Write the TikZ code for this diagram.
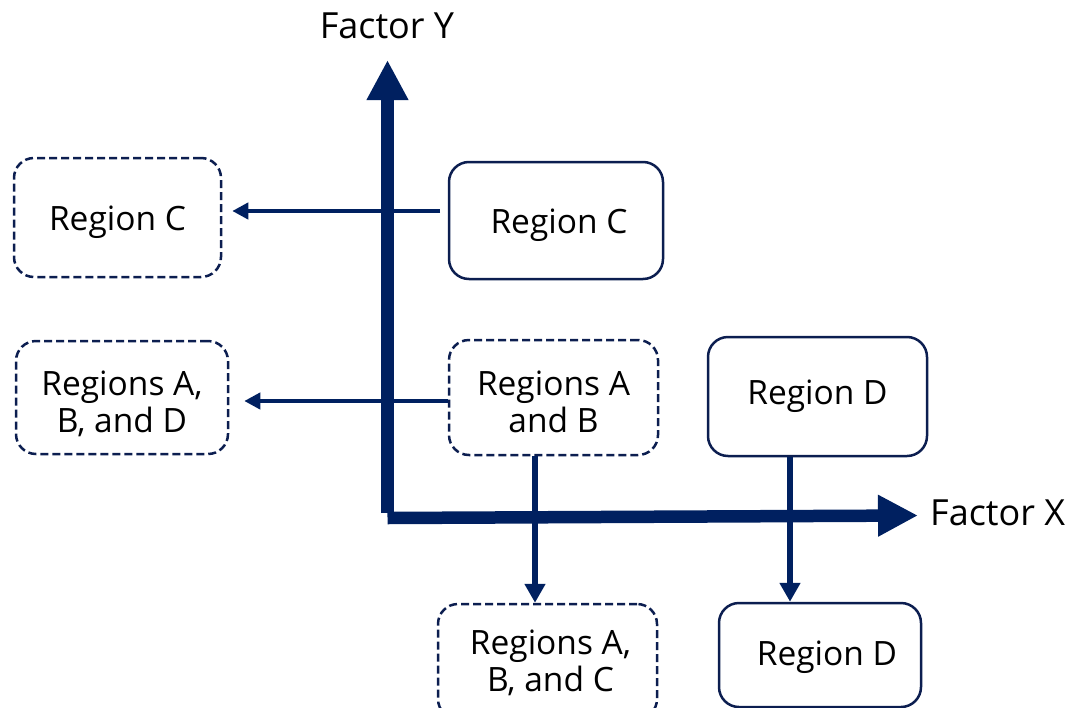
\documentclass[tikz,border=0pt]{standalone}
\usepackage{fontspec}
\setmainfont{Open Sans}
\usetikzlibrary{arrows.meta}
\definecolor{navy}{RGB}{0,32,96}
\definecolor{boxline}{RGB}{12,30,80}
\newcommand{\twolines}[3]{\begin{tabular}{@{}c@{}}\rule{0pt}{#1}#2\\#3\end{tabular}}
\tikzset{
  textdrop/.style={execute at begin node={\rule{0pt}{#1}}},
  regionbox/.style={draw=boxline, line width=2.5pt, rounded corners=20pt,
    inner sep=0pt, font=\fontsize{33.5}{37}\selectfont},
  dashbox/.style={regionbox, dash pattern=on 8pt off 4pt},
  axisline/.style={draw=navy, line width=12.5pt, -{Triangle[length=40pt,width=39pt]}},
  hconn/.style={draw=navy, line width=4.5pt, -{Triangle[length=16pt,width=16pt]}},
  vconn/.style={draw=navy, line width=6pt, -{Triangle[length=19pt,width=20pt]}},
  axislabel/.style={inner sep=0pt, font=\fontsize{36}{40}\selectfont}
}
\begin{document}
\begin{tikzpicture}[x=1pt,y=-1pt]
\useasboundingbox (0,0) rectangle (1079,707);
% axes
\coordinate (origin) at (387.5,518);
\coordinate (ytip) at (387.5,60);
\coordinate (xtip) at (918,515.5);
\draw[axisline] (387.5,513) -- (ytip);
\draw[axisline] (origin) -- (xtip);
\node[axislabel, anchor=base] (fy) at (387,38) {Factor Y};
\node[axislabel, anchor=base west] (fx) at (930,525) {Factor X};
% boxes
\node[dashbox, textdrop=34pt, minimum width=207pt, minimum height=119pt] (dC) at (117.5,217.5) {Region C};
\node[regionbox, textdrop=34pt, minimum width=214pt, minimum height=117pt] (sC) at (556,220.5) {\hspace*{6pt}Region C};
\node[dashbox, minimum width=212pt, minimum height=113pt] (dABD) at (122,397.5) {\twolines{45pt}{Regions A,}{B, and D}};
\node[dashbox, minimum width=209pt, minimum height=115pt] (dAB) at (553.5,397.5) {\twolines{45pt}{Regions A}{and B}};
\node[regionbox, minimum width=219pt, minimum height=119pt] (sD) at (817.5,396.5) {Region D};
\node[dashbox, minimum width=219pt, minimum height=115pt] (dABC) at (547.5,661.5) {\hspace*{6pt}\twolines{35pt}{Regions A,}{B, and C}};
\node[regionbox, textdrop=29pt, minimum width=202pt, minimum height=104pt] (sD2) at (820,655) {\hspace*{14pt}Region D};
% connectors
\coordinate (c1s) at (440,211);
\draw[hconn, shorten >=10pt] (c1s) -- (dC.east |- c1s);
\draw[hconn, shorten >=15pt] (dAB.west |- 0,401) -- (dABD.east |- 0,401);
\draw[vconn] (dAB.south -| 535,0) -- (dABC.north -| 535,0);
\draw[vconn] (sD.south -| 790,0) -- (sD2.north -| 790,0);
\end{tikzpicture}
\end{document}
